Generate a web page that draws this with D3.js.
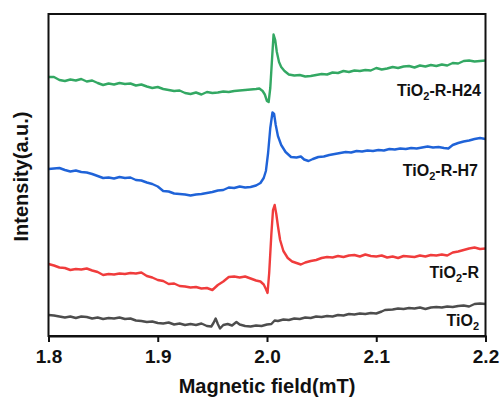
<!DOCTYPE html>
<html>
<head>
<meta charset="utf-8">
<script src="https://cdn.jsdelivr.net/npm/d3@7"></script>
<style>
  html, body { margin: 0; padding: 0; background: #fff; }
  svg { display: block; font-family: "Liberation Sans", Arial, sans-serif; }
</style>
</head>
<body>
<svg id="chart" width="500" height="398"></svg>
<script>
// EPR spectra: [magnetic field (mT), intensity (a.u.)]
const seriesH24 = [
  [1.800,25.9],[1.805,25.9],[1.810,25.6],[1.815,25.5],[1.820,25.65],[1.825,25.55],[1.830,25.7],
  [1.835,25.45],[1.840,25.55],[1.845,25.3],[1.850,25.1],[1.855,25.25],[1.860,25.15],[1.865,25.3],
  [1.870,25.2],[1.875,25.25],[1.880,25.05],[1.885,25.15],[1.890,24.95],[1.895,24.8],[1.900,24.9],
  [1.905,24.7],[1.910,24.6],[1.915,24.5],[1.920,24.55],[1.925,24.3],[1.930,24.2],[1.935,24.35],
  [1.940,24.15],[1.945,24.4],[1.950,24.3],[1.955,24.35],[1.960,24.45],[1.965,24.4],[1.970,24.5],
  [1.975,24.55],[1.980,24.6],[1.985,24.65],[1.990,24.7],[1.993,24.75],[1.996,24.5],[1.998,24.15],
  [2.000,23.5],[2.0015,23.4],[2.003,24.8],[2.0045,27.5],[2.006,30.15],[2.0075,29.6],[2.009,28.4],
  [2.011,27.4],[2.013,26.9],[2.016,26.5],[2.020,26.15],[2.025,26.05],[2.030,26.1],[2.035,25.95],
  [2.040,26.0],[2.045,26.1],[2.050,26.2],[2.055,26.15],[2.060,26.35],[2.065,26.3],[2.070,26.5],
  [2.075,26.4],[2.080,26.55],[2.085,26.5],[2.090,26.6],[2.095,26.55],[2.100,26.8],[2.105,26.65],
  [2.110,26.75],[2.115,26.9],[2.120,26.8],[2.125,26.95],[2.130,27.0],[2.135,26.85],[2.140,27.05],
  [2.145,26.95],[2.150,27.1],[2.155,27.0],[2.160,27.15],[2.165,27.05],[2.170,27.3],[2.175,27.25],
  [2.180,27.5],[2.185,27.55],[2.190,27.45],[2.195,27.5],[2.200,27.55]
];

const seriesH7 = [
  [1.800,16.7],[1.805,16.75],[1.810,16.8],[1.815,16.6],[1.820,16.45],[1.825,16.55],[1.830,16.4],
  [1.835,16.35],[1.840,16.2],[1.845,16.0],[1.850,15.8],[1.855,15.85],[1.860,15.75],[1.865,15.9],
  [1.870,15.8],[1.875,15.85],[1.880,15.6],[1.885,15.55],[1.890,15.35],[1.895,15.2],[1.900,14.95],
  [1.905,14.5],[1.910,14.45],[1.915,14.25],[1.920,14.2],[1.925,14.15],[1.930,14.05],[1.935,14.15],
  [1.940,14.2],[1.945,14.3],[1.950,14.4],[1.955,14.55],[1.960,14.6],[1.965,14.85],[1.970,14.8],
  [1.975,14.95],[1.980,14.85],[1.985,14.9],[1.990,15.05],[1.994,15.3],[1.997,15.8],[1.999,16.5],
  [2.001,18.3],[2.003,20.8],[2.005,22.35],[2.0065,22.2],[2.008,21.1],[2.010,20.0],[2.013,19.1],
  [2.017,18.4],[2.022,17.9],[2.027,17.85],[2.031,17.95],[2.034,17.65],[2.038,17.5],[2.042,17.7],
  [2.047,17.9],[2.052,17.95],[2.057,18.1],[2.062,18.2],[2.067,18.3],[2.072,18.4],[2.077,18.35],
  [2.082,18.5],[2.087,18.45],[2.092,18.55],[2.097,18.5],[2.102,18.6],[2.107,18.55],[2.112,18.7],
  [2.117,18.65],[2.122,18.75],[2.127,18.7],[2.132,18.8],[2.137,18.75],[2.142,18.85],[2.147,18.95],
  [2.152,18.85],[2.157,18.9],[2.162,18.8],[2.166,18.75],[2.170,19.1],[2.175,19.3],[2.180,19.45],
  [2.185,19.55],[2.190,19.7],[2.195,19.8],[2.200,19.7]
];

const seriesR = [
  [1.800,7.2],[1.805,7.05],[1.810,6.85],[1.815,6.8],[1.820,6.6],[1.825,6.7],[1.830,6.65],
  [1.835,6.75],[1.840,6.55],[1.845,6.4],[1.850,6.1],[1.855,6.2],[1.860,6.15],[1.865,6.25],
  [1.870,6.2],[1.875,6.3],[1.880,6.25],[1.885,6.35],[1.890,6.0],[1.895,5.85],[1.900,5.6],
  [1.905,5.5],[1.910,5.2],[1.915,5.25],[1.920,5.0],[1.925,4.95],[1.930,4.85],[1.935,4.9],
  [1.940,4.75],[1.945,4.8],[1.950,4.6],[1.955,5.1],[1.960,5.45],[1.965,5.9],[1.970,5.95],
  [1.975,5.85],[1.980,5.95],[1.985,5.75],[1.990,5.55],[1.994,5.45],[1.997,5.15],[1.999,4.7],
  [2.0005,4.3],[2.002,6.3],[2.004,10.2],[2.0055,12.6],[2.007,13.1],[2.0085,12.2],[2.010,11.0],
  [2.012,9.6],[2.015,8.5],[2.019,7.8],[2.023,7.45],[2.027,7.3],[2.031,7.15],[2.035,7.35],
  [2.040,7.5],[2.045,7.6],[2.050,7.8],[2.055,7.9],[2.060,7.85],[2.065,8.0],[2.070,7.9],
  [2.075,8.05],[2.080,8.1],[2.085,7.95],[2.090,8.15],[2.095,8.0],[2.100,7.95],[2.105,8.05],
  [2.110,7.85],[2.115,7.95],[2.120,7.8],[2.125,8.0],[2.130,7.95],[2.135,7.9],[2.140,8.05],
  [2.145,7.95],[2.150,8.1],[2.155,8.05],[2.160,8.15],[2.165,8.05],[2.170,8.35],[2.175,8.45],
  [2.180,8.6],[2.185,8.75],[2.190,8.85],[2.195,8.7],[2.200,8.75]
];

const seriesTiO2 = [
  [1.800,2.1],[1.805,2.05],[1.810,1.95],[1.815,1.85],[1.820,1.95],[1.825,1.8],[1.830,1.95],
  [1.835,1.9],[1.840,1.75],[1.845,1.85],[1.850,1.7],[1.855,1.8],[1.860,1.75],[1.865,1.85],
  [1.870,1.7],[1.875,1.75],[1.880,1.55],[1.885,1.5],[1.890,1.4],[1.895,1.45],[1.900,1.3],
  [1.905,1.25],[1.910,1.35],[1.915,1.15],[1.920,1.25],[1.925,1.1],[1.930,1.2],[1.935,1.1],
  [1.940,1.25],[1.945,1.0],[1.949,0.95],[1.951,1.3],[1.953,1.75],[1.955,1.2],[1.957,0.75],
  [1.960,1.1],[1.964,1.2],[1.968,1.05],[1.972,1.4],[1.975,1.15],[1.980,1.0],[1.985,0.95],
  [1.990,1.05],[1.995,1.0],[2.000,1.15],[2.004,1.2],[2.007,1.55],[2.010,1.5],[2.015,1.65],
  [2.020,1.6],[2.025,1.75],[2.030,1.7],[2.035,1.85],[2.040,1.8],[2.045,1.95],[2.050,1.9],
  [2.055,2.0],[2.060,1.95],[2.065,2.1],[2.070,2.05],[2.075,2.2],[2.080,2.15],[2.085,2.25],
  [2.090,2.2],[2.095,2.3],[2.100,2.25],[2.105,2.45],[2.108,2.6],[2.115,2.65],[2.120,2.75],
  [2.125,2.7],[2.130,2.8],[2.135,2.75],[2.140,2.85],[2.145,2.7],[2.150,2.85],[2.155,2.9],
  [2.160,2.85],[2.165,2.95],[2.170,2.9],[2.175,3.0],[2.180,3.05],[2.185,2.95],[2.190,3.2],
  [2.195,3.25],[2.200,3.2]
];

const xTicks = [1.8, 1.9, 2.0, 2.1, 2.2];
const seriesNames = ["TiO2-R-H24", "TiO2-R-H7", "TiO2-R", "TiO2"];
const seriesColors = ["#33a863", "#1f63d8", "#f03c3c", "#4d4d4d"];
const seriesData = [seriesH24, seriesH7, seriesR, seriesTiO2];

const svg = d3.select("#chart");
const margin = { left: 48.5, right: 14.5, top: 14, bottom: 62 };
const W = 500, H = 398;

const x = d3.scaleLinear().domain([1.8, 2.2]).range([margin.left, W - margin.right]);
const y = d3.scaleLinear().domain([0, 32.2]).range([H - margin.bottom, margin.top]);

const line = d3.line().x(d => x(d[0])).y(d => y(d[1]));

// spectra
seriesData.forEach((s, i) => {
  svg.append("path")
    .datum(s)
    .attr("fill", "none")
    .attr("stroke", seriesColors[i])
    .attr("stroke-width", 2.4)
    .attr("stroke-linejoin", "round")
    .attr("d", line);
});

// frame
svg.append("rect")
  .attr("x", x(1.8)).attr("y", y(32.2))
  .attr("width", x(2.2) - x(1.8)).attr("height", y(0) - y(32.2))
  .attr("fill", "none").attr("stroke", "#111").attr("stroke-width", 2);

// bottom axis with outward ticks
const xAxis = d3.axisBottom(x).tickValues(xTicks).tickFormat(d3.format(".1f"))
  .tickSize(6).tickPadding(8);
const gx = svg.append("g").attr("transform", `translate(0,${y(0)})`).call(xAxis);
gx.select(".domain").attr("stroke", "#111").attr("stroke-width", 2);
gx.selectAll(".tick line").attr("stroke", "#111").attr("stroke-width", 2);
gx.selectAll(".tick text")
  .attr("fill", "#111")
  .style("font-family", "'Liberation Sans', Arial, sans-serif")
  .style("font-weight", "bold")
  .style("font-size", "19px")
  .attr("dy", "0.71em");

// axis titles
svg.append("text")
  .attr("x", 267).attr("y", 393)
  .attr("text-anchor", "middle")
  .style("font-weight", "bold").style("font-size", "20px").attr("fill", "#111")
  .text("Magnetic field(mT)");

svg.append("text")
  .attr("transform", "translate(28,176.5) rotate(-90)")
  .attr("text-anchor", "middle")
  .style("font-weight", "bold").style("font-size", "20px").attr("fill", "#111")
  .text("Intensity(a.u.)");

// series labels with subscript 2
const labelPos = [
  { right: 481, base: 96 },
  { right: 478, base: 176 },
  { right: 479, base: 278 },
  { right: 479, base: 326 }
];
seriesNames.forEach((name, i) => {
  const t = svg.append("text")
    .attr("x", labelPos[i].right).attr("y", labelPos[i].base)
    .attr("text-anchor", "end")
    .style("font-weight", "bold").style("font-size", "16px").attr("fill", "#111");
  const parts = name.split("2");
  t.append("tspan").text(parts[0]);
  t.append("tspan").attr("dy", 4).style("font-size", "11px").text("2");
  const rest = name.slice(parts[0].length + 1);
  if (rest) t.append("tspan").attr("dy", -4).text(rest);
});
</script>
</body>
</html>
